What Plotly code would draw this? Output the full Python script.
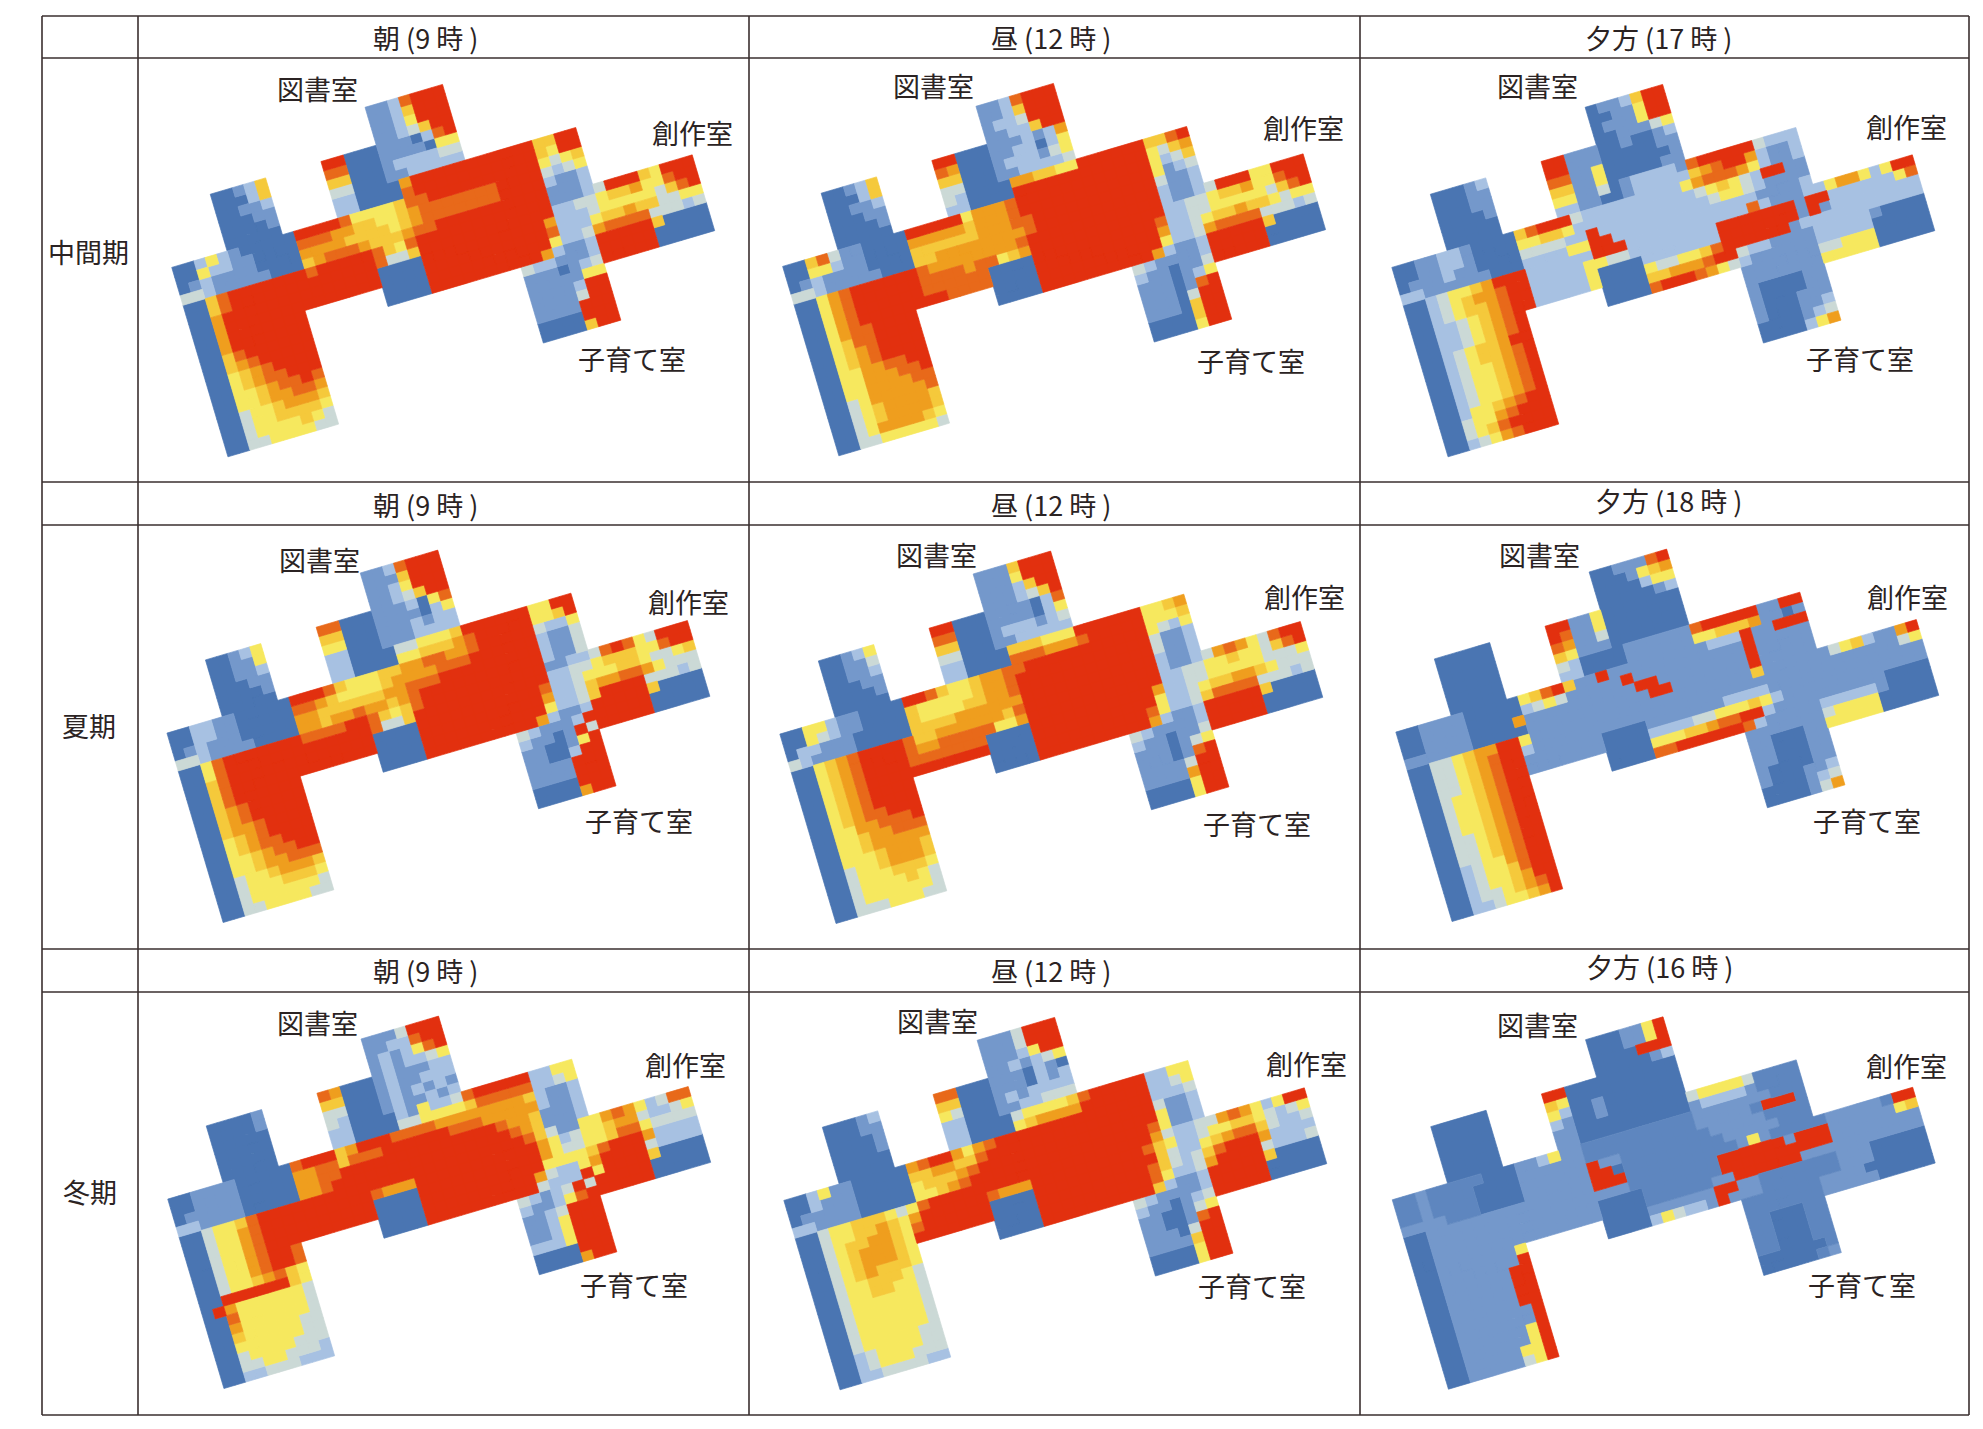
import plotly.graph_objects as go

# ---- chart values: 0 (dark blue) .. 8 (red), a = blue between 0 and 1; one list per panel, rows of the rotated floor-plan grid ----
LEVEL_KEYS = "012345678a"
LEVEL_COLORS = ["#4A75B2", "#7498CB", "#A7C1E2", "#CBD9D6", "#F6E85E", "#F5C93B", "#EF9E1E", "#E8691A", "#E2300F", "#5E86BF"]

# (first column, number of columns) of the occupied runs, by group of rows
RUNS_0_3 = [(20, 7)]
RUNS_4_7 = [(5, 5), (15, 12)]
RUNS_8_9 = [(5, 5), (15, 22)]
RUNS_10_13 = [(0, 37)]
RUNS_14_17 = [(0, 46)]
RUNS_18_19 = [(0, 10), (17, 29)]
RUNS_20_21 = [(0, 10), (29, 17)]
RUNS_22_27 = [(0, 10), (29, 7)]
RUNS_28_29 = [(0, 10)]

P1 = ["1127888", "1125888", "1124888", "1123588",
"00125 880001110278", "00025 770001111044", "00112 550001222233", "00011 330001122222",
"00001 22_0000_6_88888888888_5588", "00000 22_0000_7_88888888888_5488",
"0024210000_0888874444_5778888888_8884345", "0042211000_0777665544_5677777778_8883234",
"0121111000_0666655554_5677777778_8882112", "3321111100_0567776555_6778888888_8881112",
"0057888888_8788888754_7888888888_8881112388_854888", "0057888888_8888888733_5888888888_8882233455_644788",
"0068888888_8888888000_0888888888_8862223444_443578", "0068888888_8888888000_0888888888_8872224556_553344",
"0068888888 0000888888888_8842236777733323", "0068888888 0000888888888_8621128888850000",
"0057888888 3221112_88888_00000", "0056788888 1110123_88888_00000",
"0045678888 1111144", "0045677888 1111288", "0044567787 1111388", "0044566776 1111888",
"0034456665 0000888", "0034455554 0000588", "0034444543", "0033444433"]

P2 = ["1127888", "1125888", "1223888", "1122588",
"00125 880001112126", "00025 760001122024", "00112 550001222134", "00011 330001122223",
"00001 32_0000_6_65544_888888_5578", "00000 22_0000_8_88888888888_4356",
"0057311000_0888884666_7888888888_8884235", "0044211000_0666665666_7888888888_8884123",
"0121111000_0555555666_7788888888_8883112", "3321111100_0556666666_6788888888_8882112",
"0046788888_8766666666_7888888888_8882112388_844888", "0046788888_8777767745_6888888888_8882233455_644788",
"0046788888_8777777000_0888888888_8872233444_443578", "0046788888_8887777000_0888888888_8862234556_554344",
"0046778888 0000888888888_8842236777733323", "0045778888 0000888888888_8621128888850000",
"0045678888 3211112_88888_00000", "0045678888 2110113_88888_00000",
"0044667788 1110124", "0044666778 1110178", "0044666677 1110388", "0034666667 1110588",
"0034566665 0000588", "0034566665 0000488", "0034666654", "0033444443"]

P3 = ["0112588", "0011488", "0111488", "0011134",
"00012 881110010012", "00011 881110000011", "00011 771140000001", "00001 551140000011",
"00000 44_1130_1_22221_788888_3222", "00000 22_1100_1_22222_567886_2112",
"0011221000_0578883222_2222224677_7642112", "0011221000_0445542222_2222222345_4328811",
"0111211000_0333322822_2222222234_4321111", "2211111100_0222244882_2222222222_2211112",
"0023445688_8222222888_2222222222_2721112246_642488", "0023456678_8222224433_2222222288_8888818822_222247",
"0023455678_8222224000_0222222288_8888818122_222222", "0022345678_8222224000_0433445788_8888122222_222222",
"0022345678 0000556667883_2211112222210000", "0022345678 0000788876432_1111112222200000",
"0023455688 1111111_33444_00000", "0023455678 1111111_44444_00000",
"0023445678 1000011", "0023445678 1000011", "0023445678 1000111", "0023445678 1000112",
"0024456788 0000123", "0034467888 0000246", "0034578888", "0023467888"]

P4 = ["1127888", "1115888", "1124888", "1123588",
"00124 770001112047", "00114 550001111024", "00112 440001112122", "00011 220001112222",
"00001 22_0000_3_34445_888888_4488", "00000 22_0000_4_45556_788888_4458",
"0022110000_0888754445_5667766788_8883224", "0022110000_0776544445_6666777888_8882113",
"0121110000_0665555556_6777888888_8882113", "3321111000_0665667665_6788888888_8882113",
"0047888888_8777788754_5788888888_8881122378_743888", "0047888888_8888888733_5888888888_8882233455_544788",
"0057888888_8888888000_0888888888_8872234445_543345", "0057888888_8888888000_0888888888_8862235667_764333",
"0057888888 0000888888888_8842235888833323", "0056788888 0000888888888_8621128888850000",
"0056788888 3211128_88888_00000", "0056678888 2110183_88888_00000",
"0045678888 1100148", "0045677888 1100288", "0044567788 1111888", "0044566777 1111888",
"0034456665 0000888", "0034445554 0000688", "0034444443", "0033444433"]

P5 = ["1115888", "1114888", "1112588", "1112358",
"00124 880001111027", "00113 770001111024", "00112 550001222123", "00011 330001122222",
"00001 22_0000_5_55444_888888_4456", "00000 22_0000_7_77666_788888_4445",
"0044211000_0887544566_7788888888_8884324", "0043211000_0544444566_7888888888_8883112",
"0221110000_0544445566_7888888888_8883112", "3211110000_0555566666_6888888888_8882112",
"0045678888_7556666665_7888888888_8882112367_643788", "0045678888_7667777744_6888888888_8882233445_443578",
"0045678888_7777777000_0888888888_8862233444_443334", "0045678888_8888888000_0888888888_8842234556_654333",
"0045678888 0000888888888_8742235777733323", "0045678888 0000888888888_8621128888850000",
"0045677888 3211112_88888_00000", "0044667778 2110113_88888_00000",
"0044566777 1110134", "0044566666 1110178", "0044456665 1111388", "0034456665 1111688",
"0034445554 0000488", "0034444543 0000488", "0034444443", "0033344433"]

P6 = ["0011178", "0001456", "0000244", "0000012",
"00000 88_114_0000000", "00000 87_114_0000000", "00000 76_113_0000000", "00000 54_111_0000000",
"00000 32_0000_1_11111_788888_1188", "00000 22_0000_1_11111_445556_1101",
"0011110000_0457851181_1111111122_2811888", "0011110000_0234311111_8111111111_1811111",
"0011110000_6111111111_1881111111_1811111", "1111110000_0111111111_1188111111_1811111",
"0033456688_4111111111_1111111111_1511111134_521168", "0033456788_2111111111_1111111111_1111111111_111134",
"0033456788_1111111000_0111111122_2211111111_111111", "0033456788_1111111000_0222233444_5421111111_111111",
"0034456788 0000444556778_8211111111110000", "0034456788 0000778888887_2111112222210000",
"0034456788 1111111_34444_00000", "0034456788 1100011_44444_00000",
"0033456788 1100011", "0033456788 1100011", "0033456788 1000011", "0023446788 1000112",
"0023445788 0000123", "0023445688 0000136", "0023345678", "0022344568"]

P7 = ["1113888", "1122788", "1212478", "1212234",
"00001 760001211122", "00001 550001211222", "00000 330001212121", "00000 320001211212",
"00000 22_0000_2_14223_788888_2244", "00000 22_0000_3_34444_577777_2234",
"0011110000_0788856888_7777666666_6652112", "0011110000_0667757778_8888877766_6662112",
"0111110000_0667788888_8888888887_6651112", "2211110000_0667888888_8888888888_7651112",
"0034457888_8888888888_8888888888_8753114467_642377", "0034467888_8888888766_6888888888_8864234456_632234",
"0034467888_8888888000_0888888888_8864334457_743333", "0034467888_8888888000_0888888888_8844445788_862222",
"0034467887 0000888888888_8632246888832222", "0034467887 0000888888888_8322284888850000",
"0034456754 3212383_88888_00000", "0088888854 2112478_88888_00000",
"0864444443 1123888", "0074444443 1124888", "0064444443 1124888", "0054444433 2224888",
"0044444433 0000888", "0034444333 0000688", "0033443332", "0022333222"]

P8 = ["1113888", "1113888", "1112488", "1121234",
"00012 770001110210", "00011 550001110212", "00001 430001212222", "00001 220001122333",
"00000 22_0000_3_44445_788888_2244", "00000 22_0000_4_56666_888888_2234",
"0024110000_0678864678_8888888888_8882223", "0021110000_0556655788_8888888888_8883112",
"0111110000_0455567888_8888888888_8884112", "2211110000_0445678888_8888888888_8874112",
"0034455543_4788888888_8888888888_8863223367_642488", "0034455654_6888888766_6888888888_8754223445_543234",
"0034556654_7888888000_0888888888_8853224567_753223", "0034566654_8888888000_0888888888_8753235788_862222",
"0034566654 0000888888888_8742236888832223", "0034565554 0000888888888_8521128888850000",
"0034455543 3211112_88888_00000", "0034455443 2110123_88888_00000",
"0034444443 1100134", "0034444443 1100178", "0034444443 1110388", "0034444443 1111588",
"0034444433 0000488", "0023444433 0000488", "0023444333", "0022333322"]

P9 = ["0001148", "0001148", "0000888", "0000012",
"00000 88_000_0000000", "00000 54_000_0000000", "00000 42_001_0000000", "00000 21_001_0000000",
"00000 11_0000_0_00000_344443_aaaa", "00000 11_0000_0_00000_122221_aaaa",
"aa1aaaaa00_0112411aaa_aaaaaaa111_1111aaa", "aa1aaaa000_0111111aaa_aaaaaaa111_11a888a",
"aa1aaaa000_0111111811_aaaaaaaa11_111aaaa", "1111aaa000_0111111880_aaaaaaaaa1_1111aaa",
"0011111111_1111111888_aaaaaaaaaa_141aaaaa11_111a88", "0011111111_1111111111_aaaaaaaa88_8888188811_111145",
"0011111111_1111111000_0aaaaaaa88_8888888811_111111", "0011111111_1111111000_0aaaaaa118_8888811111_111111",
"0011111114 0000111111881_1aaaaaaa11100000", "0011111118 0000243221811_1aaaaaaa11100000",
"0011111188 aaaaaaa_11110_00000", "0011111188 aaaaaaa_11111_00000",
"0011111188 aa000aa", "0011111188 aa000aa", "0011111118 aa000aa", "0011111118 aa000aa",
"0011111148 000000a", "0011111148 00000a1", "0011111448", "0011111348"]

PANELS = [P1, P2, P3, P4, P5, P6, P7, P8, P9]

# left corner of the west wing in each panel, page pixels
PANEL_ANCHORS = [(172.3, 269.3), (783.2, 268.3), (1392.4, 269.3),
                 (167.5, 735.0), (780.4, 736.0), (1396.4, 734.0),
                 (168.3, 1201.0), (784.4, 1202.3), (1392.8, 1201.7)]

COLUMN_TITLES = [["朝 (9 時 )", "昼 (12 時 )", "夕方 (17 時 )"],
                 ["朝 (9 時 )", "昼 (12 時 )", "夕方 (18 時 )"],
                 ["朝 (9 時 )", "昼 (12 時 )", "夕方 (16 時 )"]]
ROW_TITLES = ["中間期", "夏期", "冬期"]
ROOM_NAMES = ["図書室", "創作室", "子育て室"]

# ---- layout (page pixels; the page body adds an 8 px margin, taken out through the axis ranges) ----
W, H = 1983, 1429
BODY = 8
V_LINES = [42, 138, 749, 1360, 1969]
H_LINES = [16, 58, 482, 525, 949, 992, 1415]
COL_VEC = (11.07, -3.27)
ROW_VEC = (2.81, 9.47)
ANCHOR_ROW = 10.2
TITLE_POS = [[(425, 37), (1051, 37), (1658, 37)],
             [(425, 504), (1051, 504), (1668, 500)],
             [(425, 970), (1051, 970), (1659, 966)]]
ROW_TITLE_POS = [(88.5, 251), (88.5, 725), (89.5, 1191)]
ROOM_POS = [[(317, 88), (692, 132), (632, 358)], [(933, 85), (1303, 127), (1251, 360)],
            [(1537, 85), (1906, 126), (1860, 358)],
            [(319, 559), (688, 601), (639, 820)], [(936, 554), (1304, 596), (1257, 823)],
            [(1539, 554), (1907, 596), (1867, 820)],
            [(317, 1022), (685, 1064), (634, 1284)], [(937, 1020), (1306, 1063), (1252, 1285)],
            [(1537, 1024), (1906, 1065), (1862, 1284)]]


def runs_for(r):
    for last, runs in [(3, RUNS_0_3), (7, RUNS_4_7), (9, RUNS_8_9), (13, RUNS_10_13), (17, RUNS_14_17),
                       (19, RUNS_18_19), (21, RUNS_20_21), (27, RUNS_22_27), (29, RUNS_28_29)]:
        if r <= last:
            return runs


fig = go.Figure()
for panel, (ax, ay) in zip(PANELS, PANEL_ANCHORS):
    ox = ax - ANCHOR_ROW * ROW_VEC[0]
    oy = ay - ANCHOR_ROW * ROW_VEC[1]
    xs = [[] for _ in LEVEL_COLORS]
    ys = [[] for _ in LEVEL_COLORS]
    for r, text in enumerate(panel):
        parts = text.replace("_", "").split(" ")
        for (start, n), part in zip(runs_for(r), parts):
            part = (part + part[-1] * n)[:n]
            for k, ch in enumerate(part):
                c = start + k
                lv = LEVEL_KEYS.index(ch)
                corners = [(c, r), (c + 1, r), (c + 1, r + 1), (c, r + 1), (c, r)]
                for cc, rr in corners:
                    xs[lv].append(ox + cc * COL_VEC[0] + rr * ROW_VEC[0])
                    ys[lv].append(oy + cc * COL_VEC[1] + rr * ROW_VEC[1])
                xs[lv].append(None)
                ys[lv].append(None)
    for lv, color in enumerate(LEVEL_COLORS):
        if xs[lv]:
            fig.add_trace(go.Scatter(x=xs[lv], y=ys[lv], mode="lines", fill="toself", fillcolor=color,
                                     line=dict(color=color, width=0.7), hoverinfo="skip", showlegend=False))

LINE = dict(color="#3A2F2F", width=1.6)
for x in V_LINES:
    fig.add_shape(type="line", x0=x, x1=x, y0=H_LINES[0], y1=H_LINES[-1], line=LINE)
for y in H_LINES:
    fig.add_shape(type="line", x0=V_LINES[0], x1=V_LINES[-1], y0=y, y1=y, line=LINE)

FONT = dict(family="Noto Sans CJK JP", size=27, color="#2B2323")
for row_t, row_p in zip(COLUMN_TITLES, TITLE_POS):
    for t, (x, y) in zip(row_t, row_p):
        fig.add_annotation(x=x, y=y, text=t, showarrow=False, font=FONT)
for t, (x, y) in zip(ROW_TITLES, ROW_TITLE_POS):
    fig.add_annotation(x=x, y=y, text=t, showarrow=False, font=FONT)
for pos in ROOM_POS:
    for t, (x, y) in zip(ROOM_NAMES, pos):
        fig.add_annotation(x=x, y=y, text=t, showarrow=False, font=FONT)

fig.update_layout(width=W, height=H, margin=dict(l=0, r=0, t=0, b=0), paper_bgcolor="white", plot_bgcolor="white",
                  xaxis=dict(range=[BODY, W + BODY], visible=False, fixedrange=True),
                  yaxis=dict(range=[H + BODY, BODY], visible=False, fixedrange=True),
                  showlegend=False)
fig.write_html("out.html", config={"displayModeBar": False})
